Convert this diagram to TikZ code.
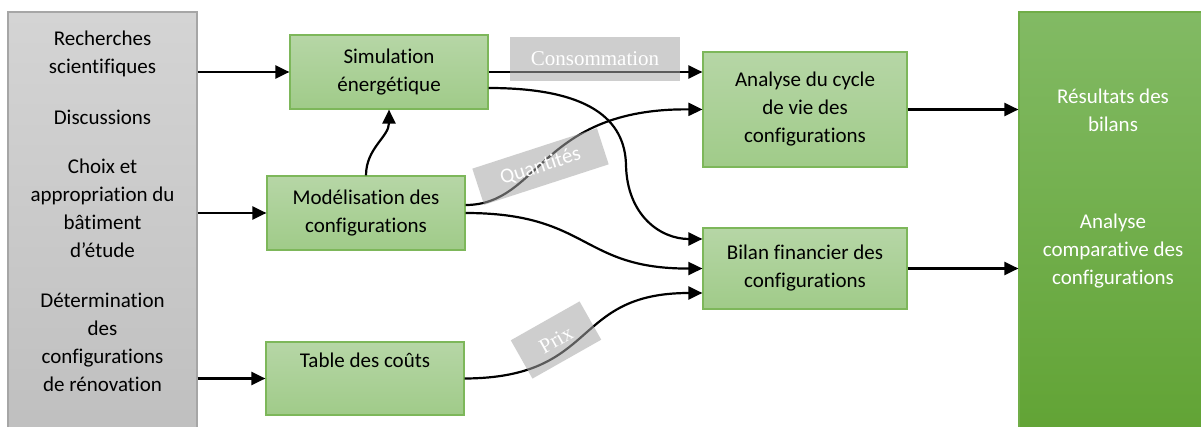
\documentclass[tikz,border=0pt]{standalone}
\usepackage{fontspec}
\setmainfont{Carlito}[RawFeature={-liga;-calt;-clig;-dlig}]
\newfontfamily\lserif{Liberation Serif}
\usetikzlibrary{arrows.meta}
\definecolor{gtop}{RGB}{182,214,166}
\definecolor{gbot}{RGB}{160,203,137}
\definecolor{gborder}{RGB}{125,183,90}
\definecolor{greytop}{RGB}{212,212,212}
\definecolor{greybot}{RGB}{191,191,191}
\definecolor{greyborder}{RGB}{166,166,166}
\definecolor{btop}{RGB}{130,186,100}
\definecolor{bbot}{RGB}{97,163,52}
\definecolor{bborder}{RGB}{112,173,71}
\definecolor{lblfill}{RGB}{166,166,166}
\tikzset{
  txt/.style={font=\fontsize{21}{28}\selectfont, align=center, inner sep=0pt},
  proc/.style={txt, draw=gborder, line width=1.2pt, top color=gtop, bottom color=gbot, text=black},
  srcbox/.style={draw=greyborder, line width=1.2pt, top color=greytop, bottom color=greybot},
  resbox/.style={draw=bborder, line width=1.2pt, top color=btop, bottom color=bbot},
  conn/.style={line width=2.2pt, -{Triangle[length=14pt,width=13pt]}},
  lbl/.style={fill=lblfill, fill opacity=0.55, text opacity=1, text=white, inner sep=0pt, align=center}
}
\begin{document}
\begin{tikzpicture}[x=1pt,y=-1pt]
\useasboundingbox (0,0) rectangle (1201,427);
\clip (0,0) rectangle (1201,427);
\fill[white] (0,0) rectangle (1201,427);
% source box
\node[srcbox, minimum width=189pt, minimum height=428pt] (src) at (102.5,226) {};
\node[txt] (t1) at (102.5,54) {Recherches\\scientifiques};
\node[txt] (t2) at (102.5,117) {Discussions};
\node[txt] (t3) at (102.5,208) {Choix et\\appropriation du\\bâtiment\\d’étude};
\node[txt] (t4) at (102.5,342) {Détermination\\des\\configurations\\de rénovation};
% result box
\node[resbox, minimum width=188pt, minimum height=428pt] (res) at (1113,226) {};
\node[txt, text=white] (r1) at (1113,110) {Résultats des\\bilans};
\node[txt, text=white] (r2) at (1113,251) {Analyse\\comparative des\\configurations};
% process boxes
\node[proc, minimum width=198pt, minimum height=74pt] (sim) at (389,72) {Simulation\\énergétique};
\node[proc, minimum width=198pt, minimum height=74pt] (mod) at (366,213) {Modélisation des\\configurations};
\node[proc, minimum width=198pt, minimum height=73pt] (tab) at (365,378.5) {Table des coûts\\\strut};
\node[proc, minimum width=204pt, minimum height=115pt] (ana) at (805,109.5) {Analyse du cycle\\de vie des\\configurations};
\node[proc, minimum width=204pt, minimum height=81pt] (bil) at (805,268.5) {Bilan financier des\\configurations};
% connectors
\draw[conn] (src.east |- sim.west) -- (sim.west);
\draw[conn] (src.east |- mod.west) -- (mod.west);
\draw[conn] (src.east |- tab.west) -- (tab.west);
\draw[conn] (mod.north) to[out=90,in=-90] (sim.south);
\draw[conn] (sim.east) -- (sim.east -| ana.west);
\draw[conn] ([yshift=-16pt]sim.east) .. controls (590,88) and (625,120) .. (626,165) .. controls (627,215) and (660,239) .. ([yshift=29.5pt]bil.west);
\draw[conn] ([yshift=8pt]mod.east) .. controls (540,205) and (540,108) .. (ana.west);
\draw[conn] (mod.east) .. controls (590,213) and (580,269) .. (bil.west);
\draw[conn] (tab.east) .. controls (600,378) and (570,293) .. ([yshift=-24.5pt]bil.west);
\draw[conn] (ana.east) -- (ana.east -| res.west);
\draw[conn] (bil.east) -- (bil.east -| res.west);
% labels
\node[lbl, minimum width=170pt, minimum height=44pt, font=\lserif\fontsize{21}{24}\selectfont] (lcons) at (595,59) {Consommation};
\node[lbl, minimum width=131pt, minimum height=38pt, rotate=18, font=\fontsize{21}{24}\selectfont] (lquant) at (540.5,166.5) {Quantités};
\node[lbl, minimum width=79pt, minimum height=44pt, rotate=29.5, font=\lserif\fontsize{21}{24}\selectfont] (lprix) at (556,340) {Prix};
\end{tikzpicture}
\end{document}
